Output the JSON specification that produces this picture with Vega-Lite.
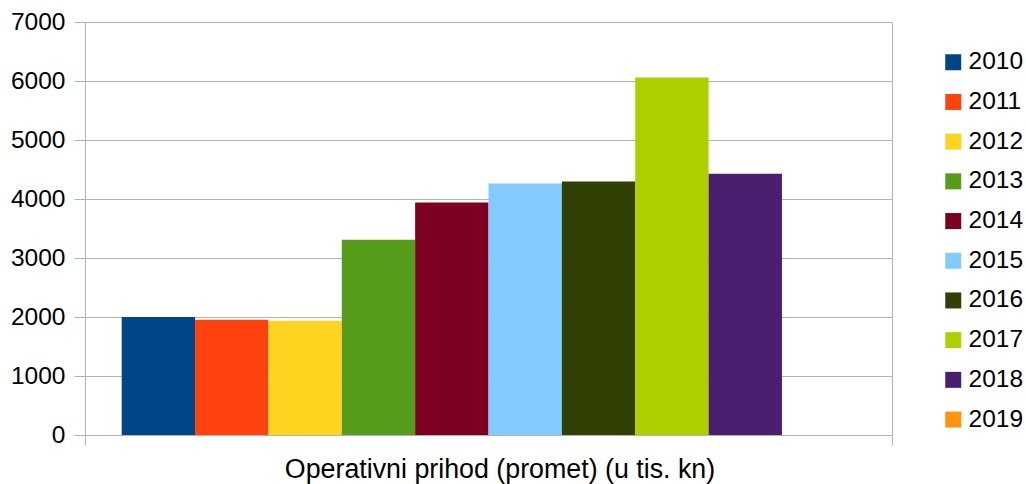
{
  "$schema": "https://vega.github.io/schema/vega-lite/v6.json",
  "width": 807,
  "height": 413,
  "autosize": "none",
  "padding": {"left": 85, "top": 22, "right": 134, "bottom": 49},
  "background": "white",
  "config": {
    "font": "Liberation Sans",
    "view": {"stroke": null},
    "axis": {"labelColor": "black", "labelFont": "Liberation Sans"}
  },
  "data": {
    "values": [
      {"kategorija": "Operativni prihod (promet) (u tis. kn)", "godina": "2010", "vrijednost": 2000},
      {"kategorija": "Operativni prihod (promet) (u tis. kn)", "godina": "2011", "vrijednost": 1952},
      {"kategorija": "Operativni prihod (promet) (u tis. kn)", "godina": "2012", "vrijednost": 1935},
      {"kategorija": "Operativni prihod (promet) (u tis. kn)", "godina": "2013", "vrijednost": 3310},
      {"kategorija": "Operativni prihod (promet) (u tis. kn)", "godina": "2014", "vrijednost": 3940},
      {"kategorija": "Operativni prihod (promet) (u tis. kn)", "godina": "2015", "vrijednost": 4262},
      {"kategorija": "Operativni prihod (promet) (u tis. kn)", "godina": "2016", "vrijednost": 4295},
      {"kategorija": "Operativni prihod (promet) (u tis. kn)", "godina": "2017", "vrijednost": 6060},
      {"kategorija": "Operativni prihod (promet) (u tis. kn)", "godina": "2018", "vrijednost": 4430},
      {"kategorija": "Operativni prihod (promet) (u tis. kn)", "godina": "2019", "vrijednost": null}
    ]
  },
  "mark": {"type": "bar"},
  "encoding": {
    "x": {
      "field": "kategorija",
      "type": "nominal",
      "scale": {"paddingInner": 0, "paddingOuter": 0},
      "axis": {
        "title": null,
        "labelAngle": 0,
        "labelFontSize": 26.8,
        "labelLimit": 0,
        "labelPadding": 11,
        "labelOffset": 11,
        "tickBand": "extent",
        "tickSize": 10,
        "tickColor": "#b3b3b3",
        "domainColor": "#b3b3b3",
        "grid": true,
        "gridColor": "#b3b3b3"
      }
    },
    "xOffset": {
      "field": "godina",
      "type": "nominal",
      "scale": {
        "domain": ["2010", "2011", "2012", "2013", "2014", "2015", "2016", "2017", "2018", "2019"],
        "paddingInner": 0,
        "paddingOuter": 0.5
      }
    },
    "y": {
      "field": "vrijednost",
      "type": "quantitative",
      "scale": {"domain": [0, 7000], "nice": false},
      "axis": {
        "title": null,
        "values": [0, 1000, 2000, 3000, 4000, 5000, 6000, 7000],
        "format": "d",
        "labelFontSize": 24.5,
        "labelPadding": 9,
        "tickSize": 11,
        "tickColor": "#b3b3b3",
        "domainColor": "#b3b3b3",
        "gridColor": "#b3b3b3"
      }
    },
    "color": {
      "field": "godina",
      "type": "nominal",
      "scale": {
        "domain": ["2010", "2011", "2012", "2013", "2014", "2015", "2016", "2017", "2018", "2019"],
        "range": ["#004586", "#ff420e", "#ffd320", "#579d1c", "#7e0021", "#83caff", "#314004", "#aecf00", "#4b1f6f", "#ff950e"]
      },
      "legend": {
        "title": null,
        "orient": "none",
        "legendX": 856,
        "legendY": 28,
        "padding": 0,
        "symbolType": "square",
        "symbolSize": 256,
        "symbolStrokeWidth": 0,
        "symbolOpacity": 1,
        "labelFontSize": 24.5,
        "labelColor": "black",
        "labelOffset": 3,
        "rowPadding": 14.7
      }
    }
  }
}
